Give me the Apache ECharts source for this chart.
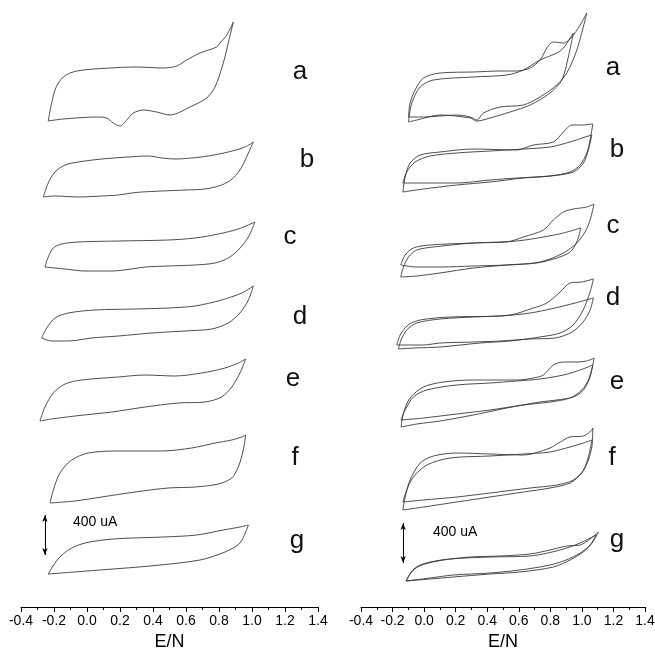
<!DOCTYPE html>
<html>
<head>
<meta charset="utf-8">
<script src="https://cdn.jsdelivr.net/npm/echarts@6/dist/echarts.min.js"></script>
<style>
html, body { margin: 0; padding: 0; background: #fff; }
#main { width: 655px; height: 648px; }
</style>
</head>
<body>
<div id="main"></div>
<script>
// cyclic voltammograms, [E (V), I (uA)] relative to each curve's own baseline
var curveNames = ['a', 'b', 'c', 'd', 'e', 'f', 'g'];

// left panel, one cycle per curve
var left_a = [[-0.235,0],[-0.194,310],[-0.144,440],[-0.062,500],[0.139,530],[0.301,540],[0.462,530],[0.544,550],[0.604,610],[0.685,680],[0.786,740],[0.806,780],[0.847,860],[0.887,990],
  [0.856,780],[0.826,580],[0.776,340],[0.725,230],[0.624,140],[0.503,60],[0.422,90],[0.341,110],[0.281,80],[0.241,10],[0.2,-50],[0.159,-20],[0.119,30],[0.059,40],[-0.144,20],[-0.235,0]];
var left_b = [[-0.265,0],[-0.235,140],[-0.194,250],[-0.133,320],[-0.053,350],[0.089,380],[0.25,400],[0.372,410],[0.453,390],[0.533,380],[0.635,390],[0.735,410],[0.856,450],[0.958,500],[1.008,550],
  [0.978,440],[0.938,300],[0.887,190],[0.816,120],[0.715,80],[0.594,70],[0.453,60],[0.332,50],[0.271,40],[0.19,20],[0.089,10],[-0.053,0],[-0.194,10],[-0.265,0]];
var left_c = [[-0.255,0],[-0.235,100],[-0.204,190],[-0.153,230],[-0.053,250],[0.19,260],[0.493,270],[0.655,290],[0.796,330],[0.917,380],[1.018,450],
  [0.978,300],[0.917,170],[0.856,90],[0.776,40],[0.655,20],[0.493,10],[0.352,0],[0.271,-20],[0.15,-40],[-0.012,-40],[-0.133,-20],[-0.255,0]];
var left_d = [[-0.275,0],[-0.244,100],[-0.194,200],[-0.113,250],[0.048,280],[0.291,290],[0.493,300],[0.655,320],[0.816,380],[0.938,450],[1.008,520],
  [0.978,380],[0.927,250],[0.856,150],[0.756,90],[0.594,70],[0.392,50],[0.19,20],[0.028,0],[-0.113,-30],[-0.214,-30],[-0.275,0]];
var left_e = [[-0.285,0],[-0.255,140],[-0.204,280],[-0.133,370],[-0.032,410],[0.19,440],[0.352,460],[0.533,450],[0.695,480],[0.836,530],[0.917,580],[0.962,620],
  [0.927,480],[0.877,340],[0.816,240],[0.715,190],[0.553,180],[0.352,140],[0.15,90],[-0.073,50],[-0.214,20],[-0.285,0]];
var left_f = [[-0.224,0],[-0.204,130],[-0.164,300],[-0.093,430],[0.008,500],[0.19,520],[0.453,520],[0.635,550],[0.776,600],[0.877,630],[0.938,660],[0.962,680],
  [0.947,530],[0.917,360],[0.877,250],[0.796,190],[0.655,160],[0.493,150],[0.291,110],[0.089,60],[-0.073,20],[-0.224,0]];
var left_g = [[-0.235,0],[-0.206,80],[-0.164,170],[-0.103,250],[-0.012,310],[0.158,350],[0.462,370],[0.665,390],[0.826,440],[0.927,470],[0.978,490],
  [0.927,310],[0.836,220],[0.685,140],[0.382,80],[0.079,40],[-0.235,0]];

// right panel, two cycles per curve
var right_a1 = [[-0.099,0],[-0.089,140],[-0.057,270],[-0.004,390],[0.101,440],[0.312,450],[0.482,460],[0.587,460],[0.672,490],[0.735,570],[0.778,690],[0.819,750],[0.883,740],[0.936,800],[0.989,920],[1.031,1040],
  [0.968,670],[0.904,440],[0.841,320],[0.735,200],[0.629,120],[0.482,100],[0.376,40],[0.334,-30],[0.292,0],[0.207,20],[-0.004,0],[-0.099,0]];
var right_a2 = [[-0.099,-50],[-0.078,140],[-0.025,300],[0.059,370],[0.312,400],[0.524,420],[0.629,470],[0.735,570],[0.841,640],[0.883,690],[0.946,840],
  [0.914,600],[0.873,370],[0.798,240],[0.672,120],[0.545,50],[0.418,-10],[0.334,-40],[0.292,-10],[0.101,20],[-0.046,-30],[-0.099,-50]];
var right_b1 = [[-0.135,0],[-0.12,150],[-0.089,290],[-0.025,370],[0.101,400],[0.312,430],[0.587,420],[0.693,470],[0.819,500],[0.883,600],[0.936,670],[0.999,670],[1.069,680],
  [1.052,520],[1.031,390],[0.989,270],[0.925,200],[0.798,160],[0.629,140],[0.418,100],[0.207,70],[-0.004,30],[-0.135,0]];
var right_b2 = [[-0.135,90],[-0.11,200],[-0.057,300],[0.038,360],[0.207,390],[0.418,410],[0.629,430],[0.798,450],[0.925,500],[1.02,550],[1.063,570],
  [1.041,420],[1.01,290],[0.946,200],[0.798,160],[0.587,140],[0.418,120],[0.207,90],[-0.004,90],[-0.135,90]];
var right_c1 = [[-0.148,0],[-0.131,100],[-0.099,200],[-0.046,270],[0.059,300],[0.312,340],[0.524,350],[0.629,400],[0.756,470],[0.819,570],[0.883,650],[0.946,680],[1.031,700],[1.077,730],
  [1.052,570],[1.02,450],[0.968,340],[0.883,240],[0.735,150],[0.524,120],[0.312,90],[0.101,40],[-0.046,10],[-0.148,0]];
var right_c2 = [[-0.148,120],[-0.12,220],[-0.068,290],[0.038,320],[0.312,340],[0.587,360],[0.756,400],[0.883,440],[0.993,490],
  [0.968,350],[0.925,250],[0.841,190],[0.714,140],[0.524,120],[0.312,110],[0.101,100],[-0.046,100],[-0.148,120]];
var right_d1 = [[-0.163,0],[-0.146,90],[-0.11,190],[-0.046,260],[0.101,300],[0.312,320],[0.545,340],[0.693,410],[0.778,460],[0.862,570],[0.925,660],[0.999,670],[1.073,700],
  [1.052,570],[1.008,390],[0.944,240],[0.862,160],[0.735,120],[0.545,80],[0.355,60],[0.101,20],[-0.057,10],[-0.163,0]];
var right_d2 = [[-0.173,40],[-0.152,140],[-0.101,240],[-0.025,290],[0.165,320],[0.482,330],[0.672,360],[0.83,410],[0.957,460],[1.073,510],
  [1.052,390],[1.008,270],[0.938,170],[0.83,110],[0.672,100],[0.482,80],[0.312,70],[0.101,60],[-0.004,40],[-0.173,40]];
var right_e1 = [[-0.146,0],[-0.131,140],[-0.089,290],[-0.004,400],[0.122,450],[0.312,470],[0.587,470],[0.693,490],[0.756,520],[0.819,620],[0.883,650],[0.968,650],[1.031,660],[1.077,690],
  [1.052,500],[1.01,370],[0.946,300],[0.841,270],[0.735,250],[0.524,190],[0.312,120],[0.101,60],[-0.046,30],[-0.146,0]];
var right_e2 = [[-0.146,70],[-0.12,170],[-0.068,300],[0.017,370],[0.207,420],[0.418,440],[0.587,460],[0.735,480],[0.883,520],[0.989,570],[1.069,620],
  [1.041,470],[0.999,370],[0.925,290],[0.798,250],[0.629,220],[0.418,170],[0.207,130],[-0.004,90],[-0.146,70]];
var right_f1 = [[-0.135,0],[-0.12,130],[-0.089,300],[-0.025,470],[0.059,540],[0.207,570],[0.418,560],[0.629,550],[0.798,620],[0.862,680],[0.925,730],[1.01,740],[1.063,800],[1.069,820],
  [1.065,650],[1.041,500],[0.999,370],[0.925,270],[0.798,220],[0.629,180],[0.418,130],[0.207,80],[-0.004,30],[-0.135,0]];
var right_f2 = [[-0.135,80],[-0.11,200],[-0.068,330],[0.017,450],[0.165,520],[0.418,540],[0.629,560],[0.798,580],[0.925,630],[1.01,670],[1.063,700],
  [1.041,530],[1.01,400],[0.946,300],[0.841,250],[0.672,220],[0.418,170],[0.207,130],[-0.004,100],[-0.135,80]];
var right_g1 = [[-0.114,0],[-0.089,70],[-0.051,130],[0.006,170],[0.122,210],[0.292,240],[0.482,250],[0.672,270],[0.798,310],[0.904,350],[0.989,360],[1.105,490],
  [1.065,380],[1.008,290],[0.925,210],[0.819,140],[0.608,90],[0.418,70],[0.186,40],[0.038,20],[-0.114,0]];
var right_g2 = [[-0.114,0],[-0.082,90],[-0.038,150],[0.038,190],[0.165,220],[0.418,240],[0.672,250],[0.862,310],[0.989,380],[1.09,460],
  [1.052,360],[0.989,280],[0.9,210],[0.798,160],[0.608,110],[0.418,80],[0.186,60],[0.038,30],[-0.114,0]];

// vertical position (uA) of each curve in the stack
var leftOffsets = [4860, 4100, 3400, 2690, 1860, 1040, 330];
var rightOffsets = [4900, 4150, 3300, 2580, 1800, 970, 260];

var leftCurves = [left_a, left_b, left_c, left_d, left_e, left_f, left_g];
var rightCurves = [[right_a1, right_a2], [right_b1, right_b2], [right_c1, right_c2], [right_d1, right_d2],
  [right_e1, right_e2], [right_f1, right_f2], [right_g1, right_g2]];

var scaleBar = 400; // uA

var font = '"Liberation Sans", Arial, Helvetica, sans-serif';
var myChart = echarts.init(document.getElementById('main'));

function shift(arr, off) {
  return arr.map(function (p) { return [p[0], p[1] + off]; });
}

function cvLine(data, gi, name) {
  return {
    name: name,
    type: 'line',
    xAxisIndex: gi,
    yAxisIndex: gi,
    data: data,
    smooth: 0.3,
    symbol: 'none',
    clip: false,
    silent: true,
    lineStyle: { color: '#3a3a3a', width: 0.9 }
  };
}

var series = [];
leftCurves.forEach(function (c, i) {
  series.push(cvLine(shift(c, leftOffsets[i]), 0, 'L' + curveNames[i]));
});
rightCurves.forEach(function (pair, i) {
  pair.forEach(function (c, k) {
    series.push(cvLine(shift(c, rightOffsets[i]), 1, 'R' + curveNames[i] + (k + 1)));
  });
});

function barMark(x, y0) {
  return {
    silent: true,
    symbol: ['arrow', 'arrow'],
    symbolSize: [4, 7],
    label: { show: false },
    lineStyle: { color: '#000', width: 1, type: 'solid' },
    data: [[{ coord: [x, y0] }, { coord: [x, y0 + scaleBar] }]]
  };
}
// scale bars sit on the g curves
series[6].markLine = barMark(-0.255, 520);
series[series.length - 1].markLine = barMark(-0.133, 440);

function xAxis(gi) {
  return {
    gridIndex: gi,
    type: 'value',
    min: -0.4,
    max: 1.4,
    interval: 0.2,
    name: 'E/N',
    nameLocation: 'middle',
    nameGap: 26,
    nameTextStyle: { color: '#000', fontSize: 18, fontFamily: font },
    axisLine: { lineStyle: { color: '#000', width: 1 } },
    axisTick: { length: 5, lineStyle: { color: '#000' } },
    minorTick: { show: true, splitNumber: 2, length: 3, lineStyle: { color: '#000' } },
    splitLine: { show: false },
    axisLabel: {
      color: '#000', fontSize: 14, fontFamily: font, margin: 7,
      formatter: function (v) { return v.toFixed(1); }
    }
  };
}

function yAxis(gi) {
  return { gridIndex: gi, type: 'value', min: 0, max: 6000, show: false };
}

var labelX = [[300, 307, 290, 300, 293, 295, 297], [613, 617, 613, 613, 617, 612, 617]];
var labelY = [[72, 160, 237, 317, 379, 458, 541], [68, 150, 226, 298, 382, 458, 540]];
var graphic = [];
[0, 1].forEach(function (p) {
  curveNames.forEach(function (n, i) {
    graphic.push({
      type: 'text', x: labelX[p][i], y: labelY[p][i],
      style: { text: n, fill: '#111', font: '26px ' + font, align: 'center', verticalAlign: 'middle' }
    });
  });
});
graphic.push({ type: 'text', x: 73, y: 522, style: { text: '400 uA', fill: '#000', font: '14px ' + font, verticalAlign: 'middle' } });
graphic.push({ type: 'text', x: 433, y: 532, style: { text: '400 uA', fill: '#000', font: '14px ' + font, verticalAlign: 'middle' } });

var option = {
  animation: false,
  backgroundColor: '#fff',
  grid: [
    { left: 21, width: 297, top: 7, height: 600, outerBoundsMode: 'none' },
    { left: 361, width: 284, top: 7, height: 600, outerBoundsMode: 'none' }
  ],
  xAxis: [xAxis(0), xAxis(1)],
  yAxis: [yAxis(0), yAxis(1)],
  graphic: graphic,
  series: series
};

myChart.setOption(option);
</script>
</body>
</html>
